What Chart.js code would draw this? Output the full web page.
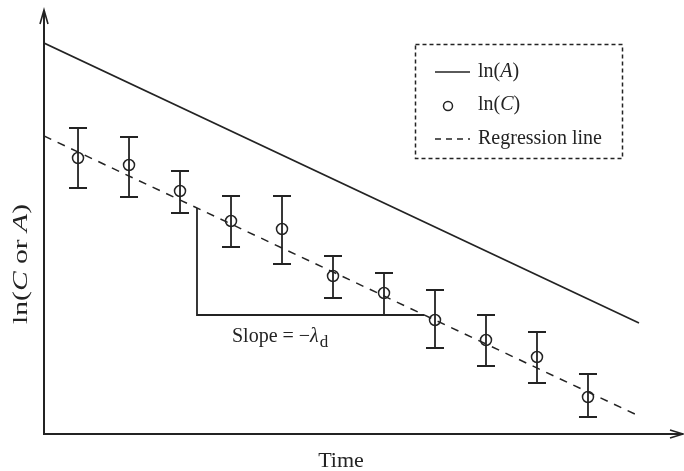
<!DOCTYPE html>
<html>
<head>
<meta charset="utf-8">
<title>ln(C or A) against time</title>
<script src="https://cdn.jsdelivr.net/npm/chart.js@4.4.1/dist/chart.umd.min.js"></script>
<style>
  html, body { margin: 0; padding: 0; background: #ffffff; }
  #wrap { width: 684px; height: 471px; }
</style>
</head>
<body>
<div id="wrap"><canvas id="c" width="684" height="471"></canvas></div>
<script>
// Sampling times (arbitrary units)
const time = [1, 2, 3, 4, 5, 6, 7, 8, 9, 10, 11];
// Measured ln(C) with upper and lower error limits
const lnC     = [6.90, 6.725, 6.075, 5.325, 5.125, 3.95, 3.525, 2.85, 2.35, 1.925, 0.925];
const lnCHigh = [7.65, 7.425, 6.575, 5.95, 5.95, 4.45, 4.025, 3.60, 2.975, 2.55, 1.50];
const lnCLow  = [6.15, 5.925, 5.525, 4.675, 4.25, 3.40, 2.975, 2.15, 1.70, 1.275, 0.425];
// ln(A) line end points
const lnATime = [0.333, 12.0];
const lnAVal  = [9.775, 2.775];
// Regression line end points
const regTime = [0.333, 12.0];
const regVal  = [7.45, 0.45];
// Slope triangle: rise / run corner points
const slopeTime = [3.333, 3.333, 7.79];
const slopeVal  = [5.65, 2.975, 2.975];

const INK = '#232323';
const SERIF = '"Liberation Serif", "DejaVu Serif", serif';

const pts = (xs, ys) => xs.map((x, i) => ({ x: x, y: ys[i] }));

// Error bars with caps
const errorBars = {
  id: 'errorBars',
  afterDatasetsDraw(chart) {
    const { ctx, scales: { x, y } } = chart;
    ctx.save();
    ctx.strokeStyle = INK;
    ctx.lineWidth = 1.8;
    const cap = 9;
    time.forEach((t, i) => {
      const px = x.getPixelForValue(t);
      const top = y.getPixelForValue(lnCHigh[i]);
      const bot = y.getPixelForValue(lnCLow[i]);
      ctx.beginPath();
      ctx.moveTo(px, top); ctx.lineTo(px, bot);
      ctx.moveTo(px - cap, top); ctx.lineTo(px + cap, top);
      ctx.moveTo(px - cap, bot); ctx.lineTo(px + cap, bot);
      ctx.stroke();
    });
    ctx.restore();
  }
};

// Draws a run of [text, font] pieces starting at x0
function drawRich(ctx, items, x0, y0) {
  let xx = x0;
  items.forEach(p => { ctx.font = p[1]; ctx.fillText(p[0], xx, y0); xx += ctx.measureText(p[0]).width; });
  return xx;
}
function richWidth(ctx, items) {
  let w = 0;
  items.forEach(p => { ctx.font = p[1]; w += ctx.measureText(p[0]).width; });
  return w;
}

// Axes with arrow heads, axis titles, slope label and legend box
const decorations = {
  id: 'decorations',
  afterDraw(chart) {
    const { ctx, chartArea: a } = chart;
    ctx.save();
    ctx.strokeStyle = INK;
    ctx.fillStyle = INK;
    ctx.lineWidth = 2;
    // axes
    ctx.beginPath();
    ctx.moveTo(a.left, a.top - 1);
    ctx.lineTo(a.left, a.bottom);
    ctx.lineTo(a.right, a.bottom);
    ctx.stroke();
    // arrow heads
    ctx.lineWidth = 1.6;
    ctx.beginPath();
    ctx.moveTo(a.left - 4, a.top + 12); ctx.lineTo(a.left, a.top - 2); ctx.lineTo(a.left + 4, a.top + 12);
    ctx.moveTo(a.right - 13, a.bottom - 4); ctx.lineTo(a.right, a.bottom); ctx.lineTo(a.right - 13, a.bottom + 4);
    ctx.stroke();

    // x title
    ctx.textBaseline = 'middle';
    ctx.textAlign = 'center';
    ctx.font = '22px ' + SERIF;
    ctx.fillText('Time', 341, 461);

    // y title, rotated: ln(C or A)
    ctx.save();
    ctx.translate(21, 264);
    ctx.rotate(-Math.PI / 2);
    const yf = '22px ' + SERIF, yfi = 'italic 22px ' + SERIF;
    const parts = [['ln(', yf], ['C', yfi], [' or ', yf], ['A', yfi], [')', yf]];
    const w = richWidth(ctx, parts);
    ctx.scale(120 / w, 1);
    ctx.textAlign = 'left';
    drawRich(ctx, parts, -w / 2, 0);
    ctx.restore();

    // slope label: Slope = −λd
    ctx.textAlign = 'left';
    ctx.textBaseline = 'alphabetic';
    const sf = '20px ' + SERIF;
    const sx = drawRich(ctx, [['Slope = \u2212', sf], ['\u03bb', 'italic 20px ' + SERIF]], 232, 342);
    ctx.font = '17px ' + SERIF;
    ctx.fillText('d', sx + 1, 347);

    // legend box
    ctx.lineWidth = 1.5;
    ctx.setLineDash([4, 3]);
    ctx.strokeRect(415.5, 44.5, 207, 114);
    ctx.setLineDash([]);
    ctx.beginPath(); ctx.moveTo(435, 72); ctx.lineTo(470, 72); ctx.stroke();
    ctx.beginPath(); ctx.arc(448, 106, 4.5, 0, Math.PI * 2); ctx.stroke();
    ctx.setLineDash([6, 5]);
    ctx.beginPath(); ctx.moveTo(435, 139); ctx.lineTo(470, 139); ctx.stroke();
    ctx.setLineDash([]);

    ctx.textBaseline = 'middle';
    const f = '20px ' + SERIF, fi = 'italic 20px ' + SERIF;
    drawRich(ctx, [['ln(', f], ['A', fi], [')', f]], 478, 72);
    drawRich(ctx, [['ln(', f], ['C', fi], [')', f]], 478, 105);
    drawRich(ctx, [['Regression line', f]], 478, 139);
    ctx.restore();
  }
};

new Chart(document.getElementById('c'), {
  type: 'scatter',
  data: {
    datasets: [
      {
        label: 'ln(A)',
        type: 'line',
        data: pts(lnATime, lnAVal),
        borderColor: INK,
        borderWidth: 1.6,
        pointRadius: 0,
        fill: false
      },
      {
        label: 'Regression line',
        type: 'line',
        data: pts(regTime, regVal),
        borderColor: INK,
        borderWidth: 1.5,
        borderDash: [8, 7],
        pointRadius: 0,
        fill: false
      },
      {
        label: 'slope',
        type: 'line',
        data: pts(slopeTime, slopeVal),
        borderColor: INK,
        borderWidth: 1.8,
        pointRadius: 0,
        fill: false
      },
      {
        label: 'ln(C)',
        data: pts(time, lnC),
        pointStyle: 'circle',
        pointRadius: 5.5,
        pointBorderWidth: 1.5,
        pointBorderColor: INK,
        pointBackgroundColor: 'rgba(0,0,0,0)',
        borderColor: INK
      }
    ]
  },
  options: {
    responsive: false,
    animation: false,
    layout: { autoPadding: false, padding: { left: 44, right: 1, top: 12, bottom: 37 } },
    plugins: { legend: { display: false }, tooltip: { enabled: false } },
    scales: {
      x: { type: 'linear', min: 0.333, max: 12.863, display: false },
      y: { type: 'linear', min: 0, max: 10.55, display: false }
    }
  },
  plugins: [errorBars, decorations]
});
</script>
</body>
</html>
